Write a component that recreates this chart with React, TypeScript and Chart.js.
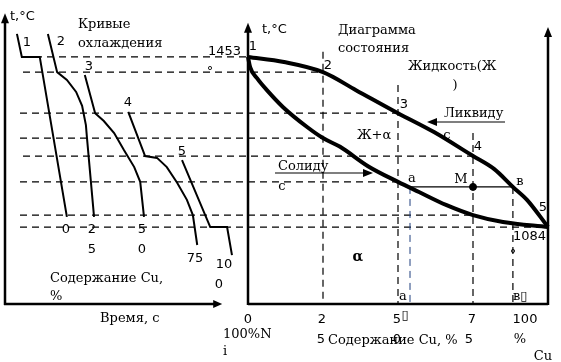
import React, { useEffect, useRef } from "react";
import { Chart, registerables } from "chart.js";

Chart.register(...registerables);

// ---- Scale ranges ----
const T_MIN = 917;
const T_MAX = 1544;
const CU_MIN = -81;
const CU_MAX = 100;
const TIME_MIN = 0;
const TIME_MAX = 100;
const TIME_AXIS_END = 40;

// ---- Phase diagram (composition % Cu, temperature °C) ----
const liquidusCu = [0, 12, 25, 36, 50, 62, 75, 82, 88.3, 93, 100];
const liquidusT = [1453, 1442, 1420, 1381, 1331, 1290, 1238, 1210, 1171, 1143, 1084];
const solidusCu = [0, 0.7, 3, 6.3, 11.7, 19.7, 25, 30.7, 40, 50, 57, 66, 75, 85, 100];
const solidusT = [1453, 1431, 1407, 1381, 1344, 1301, 1277, 1258, 1216, 1182, 1160, 1132, 1110, 1095, 1084];

// ---- Cooling curves (time, temperature) ----
const curve1Time = [2.2, 3.1, 6.4, 11.4];
const curve1T = [1503, 1453, 1453, 1106];
const curve2Time = [7.9, 9.6, 11.4, 13.1, 14.2, 14.9, 15.1, 16.4];
const curve2T = [1503, 1420, 1403, 1377, 1347, 1305, 1277, 1106];
const curve3Time = [14.7, 16.6, 18.2, 20.1, 21.9, 23.8, 24.9, 25.6];
const curve3T = [1414, 1331, 1314, 1288, 1251, 1214, 1182, 1106];
const curve4Time = [22.7, 25.8, 28.0, 29.8, 31.7, 33.5, 34.6, 35.4];
const curve4T = [1334, 1238, 1234, 1214, 1180, 1143, 1110, 1045];
const curve5Time = [32.6, 37.8, 40.9, 41.8];
const curve5T = [1229, 1084, 1084, 1023];

// ---- Isotherms (dashed horizontals) ----
const isoT = [1453, 1420, 1331, 1277, 1238, 1182, 1110, 1084];
const isoFromCu = [-75, -75, -76, -76, -75, -76, -76, -76];
const isoToCu = [0, 25, 50, 25, 75, 50, 75, 100];

// ---- Composition verticals ----
const vertCu = [25, 50, 75, 88.3];
const vertTopT = [1464, 1392, 1288, 1171];

// ---- Tie line a–M–в ----
const aCu = 54;
const mCu = 75;
const bCu = 88.3;
const tieT = 1171;

// ---- Axis arrow tips (temperature) ----
const leftAxisTipT = 1548;
const rightAxisTipT = 1527;
const borderTipT = 1518;

const SERIF = '13px "DejaVu Serif"';
const SANS = '13px "DejaVu Sans"';

type Label = { t: string; x: number; y: number; a?: CanvasTextAlign; f?: string };
const labels: Label[] = [
  { t: "t,°C", x: 10, y: 17, a: "left", f: SANS },
  { t: "1", x: 27, y: 43 },
  { t: "2", x: 61, y: 42 },
  { t: "Кривые", x: 78, y: 25, a: "left", f: SERIF },
  { t: "охлаждения", x: 78, y: 44, a: "left", f: SERIF },
  { t: "3", x: 89, y: 67 },
  { t: "4", x: 128, y: 103 },
  { t: "5", x: 182, y: 152 },
  { t: "1453", x: 208, y: 52, a: "left" },
  { t: "°", x: 210, y: 72 },
  { t: "0", x: 66, y: 230 },
  { t: "2", x: 92, y: 230 },
  { t: "5", x: 92, y: 250 },
  { t: "5", x: 142, y: 230 },
  { t: "0", x: 142, y: 250 },
  { t: "75", x: 195, y: 259 },
  { t: "10", x: 224, y: 265 },
  { t: "0", x: 219, y: 285 },
  { t: "Содержание Cu,", x: 50, y: 279, a: "left", f: SERIF },
  { t: "%", x: 50, y: 297, a: "left", f: SERIF },
  { t: "Время, с", x: 100, y: 319, a: "left", f: SERIF },
  { t: "t,°C", x: 262, y: 30, a: "left", f: SANS },
  { t: "1", x: 253, y: 47 },
  { t: "Диаграмма", x: 338, y: 31, a: "left", f: SERIF },
  { t: "состояния", x: 338, y: 49, a: "left", f: SERIF },
  { t: "2", x: 328, y: 66 },
  { t: "Жидкость(Ж", x: 408, y: 67, a: "left", f: SERIF },
  { t: ")", x: 455, y: 86, f: SERIF },
  { t: "3", x: 404, y: 105 },
  { t: "Ликвиду", x: 444, y: 114, a: "left", f: SERIF },
  { t: "с", x: 447, y: 136, f: SERIF },
  { t: "Ж+α", x: 357, y: 136, a: "left", f: SERIF },
  { t: "4", x: 478, y: 147 },
  { t: "Солиду", x: 278, y: 167, a: "left", f: SERIF },
  { t: "с", x: 282, y: 187, f: SERIF },
  { t: "a", x: 412, y: 179, f: SERIF },
  { t: "M", x: 461, y: 180, f: SERIF },
  { t: "в", x: 520, y: 182, f: SERIF },
  { t: "5", x: 543, y: 208 },
  { t: "1084", x: 513, y: 237, a: "left" },
  { t: "°", x: 513, y: 255 },
  { t: "α", x: 358, y: 257, f: 'bold 14px "DejaVu Serif"' },
  { t: "a", x: 403, y: 297, f: SERIF },
  { t: "▯", x: 405, y: 316 },
  { t: "в▯", x: 513, y: 297, a: "left", f: SERIF },
  { t: "0", x: 248, y: 320 },
  { t: "100%N", x: 223, y: 335, a: "left", f: SERIF },
  { t: "i", x: 225, y: 352, f: SERIF },
  { t: "2", x: 322, y: 320 },
  { t: "5", x: 321, y: 340 },
  { t: "5", x: 397, y: 320 },
  { t: "0", x: 397, y: 340 },
  { t: "Содержание Cu, %", x: 328, y: 341, a: "left", f: SERIF },
  { t: "7", x: 472, y: 320 },
  { t: "5", x: 469, y: 340 },
  { t: "100", x: 525, y: 320 },
  { t: "%", x: 520, y: 340, f: SERIF },
  { t: "Cu", x: 543, y: 357, f: SERIF },
];

const pts = (xs: number[], ys: number[]) => xs.map((x, i) => ({ x, y: ys[i] }));

function arrowHead(ctx: CanvasRenderingContext2D, tx: number, ty: number, dx: number, dy: number, len: number, hw: number) {
  const bx = tx - dx * len;
  const by = ty - dy * len;
  ctx.beginPath();
  ctx.moveTo(tx, ty);
  ctx.lineTo(bx - dy * hw, by + dx * hw);
  ctx.lineTo(bx + dy * hw, by - dx * hw);
  ctx.closePath();
  ctx.fill();
}

function arrowLine(ctx: CanvasRenderingContext2D, x1: number, y1: number, x2: number, y2: number, len: number, hw: number, lw: number) {
  const d = Math.hypot(x2 - x1, y2 - y1);
  const dx = (x2 - x1) / d;
  const dy = (y2 - y1) / d;
  ctx.lineWidth = lw;
  ctx.beginPath();
  ctx.moveTo(x1, y1);
  ctx.lineTo(x2 - dx * len * 0.8, y2 - dy * len * 0.8);
  ctx.stroke();
  arrowHead(ctx, x2, y2, dx, dy, len, hw);
}

const overlay = {
  id: "overlay",
  afterDatasetsDraw(chart: any) {
    const ctx: CanvasRenderingContext2D = chart.ctx;
    const X = chart.scales.x;
    const XT = chart.scales.xt;
    const Y = chart.scales.y;
    ctx.save();
    ctx.setLineDash([]);
    ctx.strokeStyle = "#000";
    ctx.fillStyle = "#000";
    ctx.lineCap = "butt";
    const yb = Y.getPixelForValue(T_MIN);
    const xl = XT.getPixelForValue(TIME_MIN);
    const x0 = X.getPixelForValue(0);
    const x100 = X.getPixelForValue(CU_MAX);
    // left panel axes
    arrowLine(ctx, xl, yb + 1, xl, Y.getPixelForValue(leftAxisTipT), 10, 4, 2.5);
    arrowLine(ctx, xl - 1, yb, XT.getPixelForValue(TIME_AXIS_END), yb, 9, 4, 2.5);
    // right panel axes
    arrowLine(ctx, x0, yb + 1, x0, Y.getPixelForValue(rightAxisTipT), 10, 4, 2.5);
    ctx.lineWidth = 2.5;
    ctx.beginPath();
    ctx.moveTo(x0, yb);
    ctx.lineTo(x100, yb);
    ctx.stroke();
    arrowLine(ctx, x100, yb + 1, x100, Y.getPixelForValue(borderTipT), 10, 4, 2.5);
    // annotation arrows
    arrowLine(ctx, 505, 122, 427, 122, 10, 4, 1.2);
    arrowLine(ctx, 275, 173, 373, 173, 10, 4, 1.2);
    // labels
    ctx.textBaseline = "middle";
    for (const l of labels) {
      ctx.font = l.f || SANS;
      ctx.textAlign = l.a || "center";
      ctx.fillText(l.t, l.x, l.y);
    }
    ctx.restore();
  },
};

export default function App() {
  const ref = useRef<HTMLCanvasElement>(null);
  useEffect(() => {
    const canvas = ref.current!;
    const thick = (xs: number[], ys: number[]) => ({
      data: pts(xs, ys),
      xAxisID: "x",
      showLine: true,
      borderColor: "#000",
      borderWidth: 4,
      pointRadius: 0,
      cubicInterpolationMode: "monotone" as const,
      clip: false as const,
    });
    const cool = (xs: number[], ys: number[]) => ({
      data: pts(xs, ys),
      xAxisID: "xt",
      showLine: true,
      borderColor: "#000",
      borderWidth: 2,
      pointRadius: 0,
      tension: 0,
      clip: false as const,
    });
    const dashed = (xs: number[], ys: number[], color = "#000", w = 1.2) => ({
      data: pts(xs, ys),
      xAxisID: "x",
      showLine: true,
      borderColor: color,
      borderWidth: w,
      borderDash: [7, 5],
      pointRadius: 0,
      tension: 0,
      clip: false as const,
    });
    const datasets: any[] = [
      thick(liquidusCu, liquidusT),
      thick(solidusCu, solidusT),
      cool(curve1Time, curve1T),
      cool(curve2Time, curve2T),
      cool(curve3Time, curve3T),
      cool(curve4Time, curve4T),
      cool(curve5Time, curve5T),
      {
        data: [{ x: mCu, y: tieT }],
        xAxisID: "x",
        showLine: false,
        pointRadius: 3.5,
        pointBackgroundColor: "#000",
        pointBorderColor: "#000",
        clip: false,
      },
      {
        data: pts([aCu, bCu], [tieT, tieT]),
        xAxisID: "x",
        showLine: true,
        borderColor: "#000",
        borderWidth: 1.3,
        pointRadius: 0,
        clip: false,
      },
      dashed([aCu, aCu], [tieT, T_MIN], "#1f3f7f", 1),
    ];
    isoT.forEach((t, i) => datasets.push(dashed([isoFromCu[i], isoToCu[i]], [t, t])));
    vertCu.forEach((c, i) => datasets.push(dashed([c, c], [vertTopT[i], T_MIN])));

    const chart = new Chart(canvas, {
      type: "scatter",
      data: { datasets },
      options: {
        animation: false,
        responsive: false,
        devicePixelRatio: 1,
        layout: { padding: { left: 5, right: 13, top: 15, bottom: 58 } },
        plugins: { legend: { display: false }, tooltip: { enabled: false } },
        events: [],
        scales: {
          x: { type: "linear", axis: "x", position: "bottom", min: CU_MIN, max: CU_MAX, display: false },
          xt: { type: "linear", axis: "x", position: "bottom", min: TIME_MIN, max: TIME_MAX, display: false },
          y: { type: "linear", min: T_MIN, max: T_MAX, display: false },
        },
      } as any,
      plugins: [overlay],
    });
    return () => chart.destroy();
  }, []);
  return (
    <div style={{ position: "fixed", left: 0, top: 0, width: 561, height: 362, background: "#fff" }}>
      <canvas ref={ref} width={561} height={362} style={{ display: "block" }} />
    </div>
  );
}
